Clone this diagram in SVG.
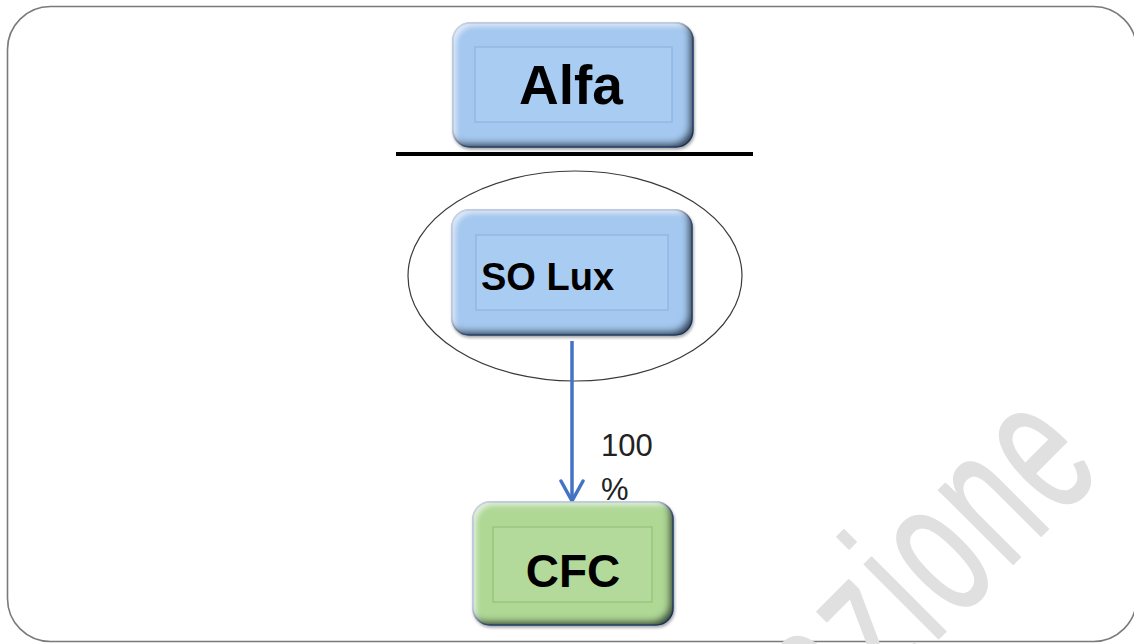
<svg xmlns="http://www.w3.org/2000/svg" width="1134" height="644" viewBox="0 0 1134 644">
  <style>
    .frame { fill: #ffffff; stroke: #7a7a7a; stroke-width: 1.6; }
    .outer-blue { fill: #a4c8ef; stroke: #4f81bd; stroke-width: 1.5; }
    .inner-blue { fill: #a9cdf2; stroke: #8cb4df; stroke-width: 1.2; }
    .outer-green { fill: #afd895; stroke: #4f81bd; stroke-width: 1.5; }
    .inner-green { fill: #b3da9a; stroke: #93c27a; stroke-width: 1.2; }
    .label { font-family: "Liberation Sans", Arial, sans-serif; font-weight: bold; fill: #000000; }
    .pct { font-family: "Liberation Sans", Arial, sans-serif; font-size: 31px; fill: #222222; }
    .wm { font-family: "Liberation Sans", Arial, sans-serif; font-size: 198px; letter-spacing: 10.5px; fill: #e0e0e0; stroke: #e0e0e0; stroke-width: 2; stroke-linejoin: round; }
    .conn { stroke: #4472c4; stroke-width: 3.5; fill: none; }
  </style>
  <defs>
    <!-- raised bevel: light band top-left, dark band bottom-right -->
    <filter id="bevel" x="-10%" y="-10%" width="120%" height="125%">
      <feOffset in="SourceAlpha" dx="-5" dy="-5" result="offDark"/>
      <feGaussianBlur in="offDark" stdDeviation="3" result="blurDark"/>
      <feComposite in="SourceAlpha" in2="blurDark" operator="out" result="bandDark"/>
      <feFlood flood-color="#0d1a2b" flood-opacity="0.9"/>
      <feComposite in2="bandDark" operator="in" result="dark"/>
      <feOffset in="SourceAlpha" dx="4" dy="4" result="offLight"/>
      <feGaussianBlur in="offLight" stdDeviation="2.5" result="blurLight"/>
      <feComposite in="SourceAlpha" in2="blurLight" operator="out" result="bandLight"/>
      <feFlood flood-color="#ffffff" flood-opacity="0.55"/>
      <feComposite in2="bandLight" operator="in" result="light"/>
      <feOffset in="SourceAlpha" dx="1" dy="2" result="shOff"/>
      <feGaussianBlur in="shOff" stdDeviation="1.5" result="shBlur"/>
      <feFlood flood-color="#000000" flood-opacity="0.35"/>
      <feComposite in2="shBlur" operator="in" result="shadow"/>
      <feMerge>
        <feMergeNode in="shadow"/>
        <feMergeNode in="SourceGraphic"/>
        <feMergeNode in="light"/>
        <feMergeNode in="dark"/>
      </feMerge>
    </filter>
    <!-- open chevron head, drawn pointing along +x -->
    <marker id="chevron" viewBox="0 0 26 30" refX="22" refY="15" markerWidth="26" markerHeight="30" markerUnits="userSpaceOnUse" orient="auto">
      <path d="M2 4 L22 15 L2 26" fill="none" stroke="#4472c4" stroke-width="3.5" stroke-linecap="round" stroke-linejoin="round"/>
    </marker>
  </defs>

  <!-- page frame -->
  <rect class="frame" x="7.5" y="6.5" width="1129" height="635" rx="43" ry="43"/>

  <!-- watermark -->
  <g id="watermark">
    <text class="wm" transform="translate(835 742) rotate(-45) scale(0.6 1)">azione</text>
  </g>

  <!-- separator under the top entity -->
  <line x1="396" y1="154" x2="753" y2="154" stroke="#000000" stroke-width="4"/>

  <!-- grouping ellipse -->
  <ellipse cx="575" cy="276" rx="167" ry="105" fill="none" stroke="#3a3a3a" stroke-width="1.2"/>

  <g id="connectors">
    <line class="conn" x1="572" y1="341" x2="572" y2="501" marker-end="url(#chevron)"/>
    <text class="pct" x="601" y="456">100</text>
    <text class="pct" x="601" y="500">%</text>
  </g>

  <g id="node-alfa">
    <rect class="outer-blue" x="453" y="23" width="240" height="124" rx="17" filter="url(#bevel)"/>
    <rect class="inner-blue" x="475" y="47" width="197" height="75"/>
    <text class="label" x="571" y="104" font-size="55" text-anchor="middle">Alfa</text>
  </g>

  <g id="node-solux">
    <rect class="outer-blue" x="452" y="210" width="240" height="125" rx="17" filter="url(#bevel)"/>
    <rect class="inner-blue" x="476" y="235" width="192" height="75"/>
    <text class="label" x="481" y="290" font-size="38">SO Lux</text>
  </g>

  <g id="node-cfc">
    <rect class="outer-green" x="473" y="502" width="200" height="123" rx="17" filter="url(#bevel)"/>
    <rect class="inner-green" x="493" y="527" width="159" height="75"/>
    <text class="label" x="573" y="587" font-size="46" text-anchor="middle">CFC</text>
  </g>
</svg>
